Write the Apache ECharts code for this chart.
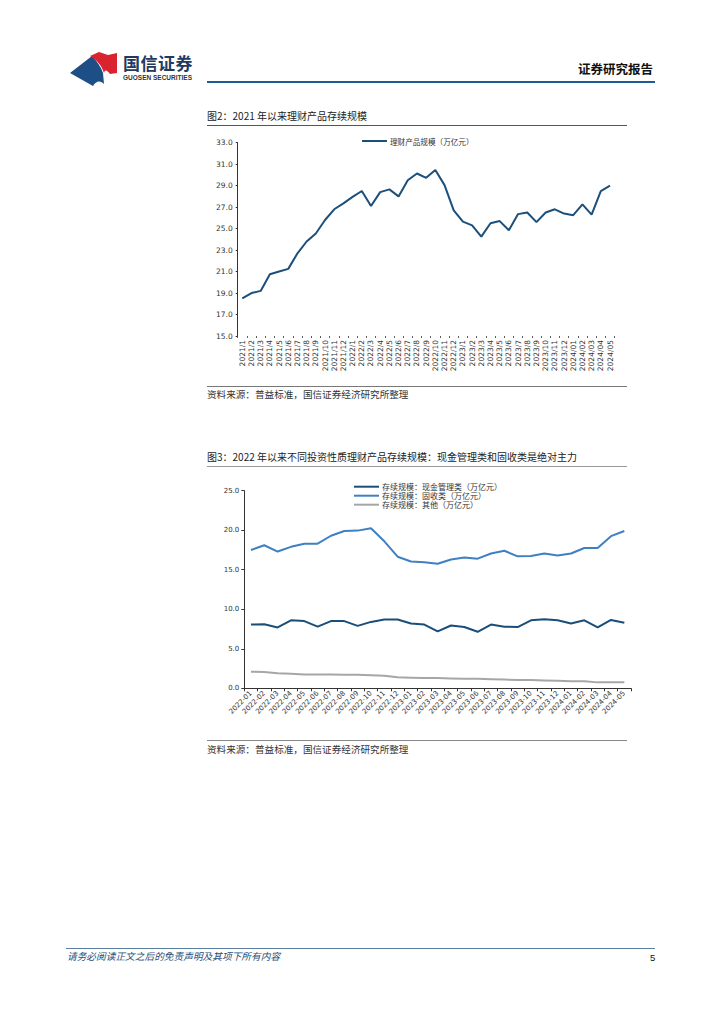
<!DOCTYPE html>
<html><head><meta charset="utf-8">
<script src="https://cdn.jsdelivr.net/npm/echarts@6/dist/echarts.min.js"></script>
<style>
body{margin:0;width:724px;height:1024px;position:relative;background:#fff;font-family:"Noto Sans CJK SC","Noto Sans",sans-serif;overflow:hidden}
.abs{position:absolute;white-space:nowrap;line-height:1}
.hl{position:absolute;height:0}
</style></head><body>

<svg class="abs" style="left:66px;top:48px" width="60" height="42" viewBox="66 48 60 42">
  <path d="M70,73 L92,56 C97,61 101,67 103,73 L104,84 C100,80 96,81 93,86 Z" fill="#1d4f86"/>
  <path d="M90,56 L99,52 L108,55 L117,53 L117,73 L110,74 C107,70 105,69 104,73 C102,66 97,60 90,56 Z" fill="#d9232e"/>
</svg>
<div class="abs" style="left:123px;top:54px;font-size:17px;font-weight:bold;color:#23395d;letter-spacing:0.5px">国信证券</div>
<div class="abs" style="left:123px;top:75px;font-size:6.5px;font-weight:bold;color:#333;font-family:'Liberation Sans',sans-serif">GUOSEN SECURITIES</div>
<div class="abs" style="left:578px;top:63px;font-size:12.5px;font-weight:bold;color:#111">证券研究报告</div>
<div class="hl" style="left:207px;top:81px;width:448px;border-top:2.5px solid #1f5b99"></div>

<div class="abs" style="left:207px;top:111px;font-size:10px;color:#222">图2：2021 年以来理财产品存续规模</div>
<div class="hl" style="left:207px;top:125px;width:420px;border-top:1px solid #555"></div>
<div id="c1" class="abs" style="left:200px;top:130px;width:440px;height:255px"></div>
<div class="hl" style="left:207px;top:386px;width:420px;border-top:1px solid #777"></div>
<div class="abs" style="left:207px;top:390px;font-size:9.6px;color:#333">资料来源：普益标准，国信证券经济研究所整理</div>

<div class="abs" style="left:207px;top:452px;font-size:10px;color:#222">图3：2022 年以来不同投资性质理财产品存续规模：现金管理类和固收类是绝对主力</div>
<div class="hl" style="left:207px;top:466px;width:420px;border-top:1px solid #999"></div>
<div id="c2" class="abs" style="left:200px;top:470px;width:440px;height:265px"></div>
<div class="hl" style="left:207px;top:740px;width:420px;border-top:1px solid #888"></div>
<div class="abs" style="left:207px;top:745px;font-size:9.6px;color:#333">资料来源：普益标准，国信证券经济研究所整理</div>

<div class="hl" style="left:66px;top:948px;width:589px;border-top:1px solid #5b7fa0"></div>
<div class="abs" style="left:67px;top:952px;font-size:9.7px;font-style:italic;color:#1f4e79">请务必阅读正文之后的免责声明及其项下所有内容</div>
<div class="abs" style="left:650px;top:953px;font-size:9.5px;color:#111;font-family:'Liberation Sans',sans-serif">5</div>

<script>
const months1 = ['2021/1','2021/2','2021/3','2021/4','2021/5','2021/6','2021/7','2021/8','2021/9','2021/10','2021/11','2021/12',
  '2022/1','2022/2','2022/3','2022/4','2022/5','2022/6','2022/7','2022/8','2022/9','2022/10','2022/11','2022/12',
  '2023/1','2023/2','2023/3','2023/4','2023/5','2023/6','2023/7','2023/8','2023/9','2023/10','2023/11','2023/12',
  '2024/01','2024/02','2024/03','2024/04','2024/05'];
const scaleTotal = [18.5,19.0,19.2,20.75,21.0,21.25,22.7,23.8,24.55,25.8,26.8,27.35,
  27.95,28.5,27.1,28.4,28.65,28.0,29.5,30.13,29.73,30.45,29.05,26.7,
  25.65,25.3,24.25,25.5,25.7,24.85,26.35,26.5,25.6,26.5,26.8,26.4,
  26.25,27.25,26.3,28.5,29.0];
const yTicks1 = [15,17,19,21,23,25,27,29,31,33];

const months2 = ['2022-01','2022-02','2022-03','2022-04','2022-05','2022-06','2022-07','2022-08','2022-09','2022-10','2022-11','2022-12',
  '2023-01','2023-02','2023-03','2023-04','2023-05','2023-06','2023-07','2023-08','2023-09','2023-10','2023-11','2023-12',
  '2024-01','2024-02','2024-03','2024-04','2024-05'];
const cashMgmt = [8.07,8.1,7.7,8.6,8.5,7.8,8.5,8.5,7.9,8.4,8.7,8.7,8.2,8.07,7.2,7.95,7.75,7.15,8.07,7.8,7.75,8.6,8.75,8.6,8.2,8.6,7.7,8.65,8.3];
const fixedIncome = [17.5,18.1,17.3,17.9,18.3,18.3,19.3,19.9,19.95,20.25,18.6,16.65,16.05,15.95,15.75,16.3,16.55,16.4,17.05,17.4,16.7,16.75,17.05,16.8,17.05,17.75,17.75,19.25,19.9];
const others = [2.1,2.05,1.9,1.85,1.75,1.75,1.75,1.7,1.7,1.65,1.6,1.4,1.35,1.3,1.3,1.25,1.2,1.2,1.15,1.1,1.05,1.05,1.0,0.95,0.9,0.9,0.75,0.75,0.75];

const FONT = 'DejaVu Sans';
const LEG_FONT = 'Noto Sans CJK SC';

const c1 = echarts.init(document.getElementById('c1'), null, {renderer:'svg'});
c1.setOption({
  animation:false,
  legend:{left:161, top:7, padding:0, itemWidth:25, itemHeight:10, itemStyle:{opacity:0},
    textStyle:{fontSize:7.6, color:'#333', fontFamily:LEG_FONT, padding:[0,0,0,-2]}, data:['理财产品规模（万亿元）']},
  grid:{left:37.7, top:12.7, right:25.4, bottom:49, outerBoundsMode:'none'},
  xAxis:{type:'category', data:months1, boundaryGap:true,
    axisLine:{show:false},
    axisTick:{show:true, length:2, lineStyle:{color:'#333', width:0.8}},
    axisLabel:{rotate:90, interval:0, fontSize:7.5, color:'#333', fontFamily:FONT, margin:4}},
  yAxis:{type:'value', min:15, max:33,
    axisLine:{show:true, lineStyle:{color:'#333', width:1}},
    axisTick:{show:true, length:2, customValues:yTicks1, lineStyle:{color:'#333'}},
    axisLabel:{customValues:yTicks1, fontSize:7.5, color:'#333', fontFamily:FONT, margin:5, formatter:v=>v.toFixed(1)},
    splitLine:{show:false}},
  series:[{name:'理财产品规模（万亿元）', type:'line', data:scaleTotal, symbol:'none',
    lineStyle:{color:'#1b4f7c', width:2}, itemStyle:{color:'#1b4f7c'}}]
});

const c2 = echarts.init(document.getElementById('c2'), null, {renderer:'svg'});
c2.setOption({
  animation:false,
  legend:{orient:'vertical', left:153, top:12.2, padding:0, itemWidth:25, itemHeight:9, itemGap:0, itemStyle:{opacity:0},
    textStyle:{fontSize:8, lineHeight:9, color:'#333', fontFamily:LEG_FONT, padding:[0,0,0,-2]},
    data:['存续规模：现金管理类（万亿元）','存续规模：固收类（万亿元）','存续规模：其他（万亿元）']},
  grid:{left:44.3, top:20.7, right:9, bottom:46.7, outerBoundsMode:'none'},
  xAxis:{type:'category', data:months2, boundaryGap:true,
    axisLine:{show:true, lineStyle:{color:'#333', width:1}},
    axisTick:{show:true, length:3, lineStyle:{color:'#333'}},
    axisLabel:{rotate:45, interval:0, fontSize:7, color:'#333', fontFamily:FONT, margin:4}},
  yAxis:{type:'value', min:0, max:25, interval:5,
    axisLine:{show:true, lineStyle:{color:'#333', width:1}},
    axisTick:{show:true, length:3, lineStyle:{color:'#333'}},
    axisLabel:{fontSize:7, color:'#333', fontFamily:FONT, margin:5, formatter:v=>v.toFixed(1)},
    splitLine:{show:false}},
  series:[
    {name:'存续规模：现金管理类（万亿元）', type:'line', data:cashMgmt, symbol:'none', lineStyle:{color:'#1a4e7a', width:2}, itemStyle:{color:'#1a4e7a'}},
    {name:'存续规模：固收类（万亿元）', type:'line', data:fixedIncome, symbol:'none', lineStyle:{color:'#3f80c2', width:2}, itemStyle:{color:'#3f80c2'}},
    {name:'存续规模：其他（万亿元）', type:'line', data:others, symbol:'none', lineStyle:{color:'#a6a6a6', width:2}, itemStyle:{color:'#a6a6a6'}}
  ]
});
</script>
</body></html>
